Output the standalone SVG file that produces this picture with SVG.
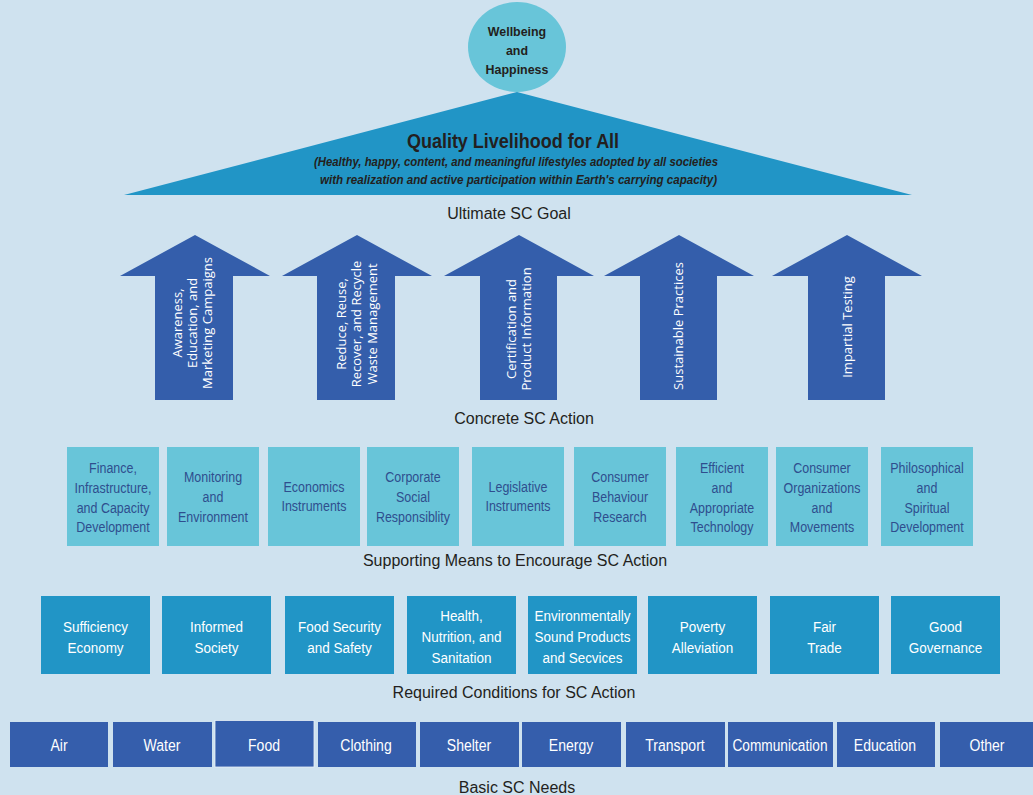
<svg xmlns="http://www.w3.org/2000/svg" width="1033" height="795" viewBox="0 0 1033 795">
<style>
.nar{font-family:"Liberation Sans",Arial,sans-serif;}
.hdr{font-family:"Liberation Sans",sans-serif;font-size:16px;fill:#231f20;text-anchor:middle;}
.arrow{fill:#345eab;}
.atxt{font-family:"Open Sans","Liberation Sans",sans-serif;font-size:13px;fill:#ffffff;text-anchor:middle;}
.sup{fill:#68c5d9;}
.stxt{font-size:14.5px;fill:#2f4e8e;text-anchor:middle;}
.req{fill:#2195c6;}
.rtxt{font-size:15.5px;fill:#ffffff;text-anchor:middle;}
.need{fill:#355eac;}
.ntxt{font-size:16.5px;fill:#ffffff;text-anchor:middle;}
</style>
<rect width="1033" height="795" fill="#cfe2ef"/>

<g id="goal">
<polygon points="517,92 912,195 124,195" fill="#2195c6"/>
<text class="nar" transform="translate(513 0) scale(0.9 1)" x="0" y="148" font-size="20" font-weight="bold" fill="#231f20" text-anchor="middle">Quality Livelihood for All</text>
<text class="nar" x="314" y="166" font-size="12.5" font-weight="bold" font-style="italic" fill="#231f20" textLength="404" lengthAdjust="spacingAndGlyphs">(Healthy, happy, content, and meaningful lifestyles adopted by all societies</text>
<text class="nar" x="320" y="184" font-size="12.5" font-weight="bold" font-style="italic" fill="#231f20" textLength="397" lengthAdjust="spacingAndGlyphs">with realization and active participation within Earth's carrying capacity)</text>
</g>
<g id="wellbeing">
<ellipse cx="517" cy="47" rx="49" ry="45" fill="#68c5d9"/>
<text class="nar" transform="translate(517 0) scale(0.92 1)" font-size="13.5" font-weight="bold" fill="#231f20" text-anchor="middle"><tspan x="0" y="36">Wellbeing</tspan><tspan x="0" y="55">and</tspan><tspan x="0" y="74">Happiness</tspan></text>
</g>
<text class="hdr" x="509" y="219">Ultimate SC Goal</text>

<g id="arrow1">
<polygon class="arrow" points="195,235 270,276 233,276 233,400 155,400 155,276 120,276"/>
<text class="atxt" transform="rotate(-90)"><tspan x="-323" y="182">Awareness,</tspan><tspan x="-323" y="197">Education, and</tspan><tspan x="-323" y="212">Marketing Campaigns</tspan></text>
</g>
<g id="arrow2">
<polygon class="arrow" points="357,235 432,276 395,276 395,400 317,400 317,276 282,276"/>
<text class="atxt" transform="rotate(-90)"><tspan x="-324" y="346">Reduce, Reuse,</tspan><tspan x="-324" y="361">Recover, and Recycle</tspan><tspan x="-324" y="377">Waste Management</tspan></text>
</g>
<g id="arrow3">
<polygon class="arrow" points="519,235 594,276 557,276 557,400 480,400 480,276 444,276"/>
<text class="atxt" transform="rotate(-90)"><tspan x="-329" y="516">Certification and</tspan><tspan x="-329" y="531">Product Information</tspan></text>
</g>
<g id="arrow4">
<polygon class="arrow" points="679,235 754,276 717,276 717,400 640,400 640,276 604,276"/>
<text class="atxt" transform="rotate(-90)" x="-326" y="683">Sustainable Practices</text>
</g>
<g id="arrow5">
<polygon class="arrow" points="847,235 922,276 885,276 885,400 808,400 808,276 772,276"/>
<text class="atxt" transform="rotate(-90)" x="-327" y="852">Impartial Testing</text>
</g>
<text class="hdr" x="524" y="424">Concrete SC Action</text>

<g id="sup1"><rect class="sup" x="67" y="447" width="92" height="99"/><text class="nar stxt" transform="translate(113 0) scale(0.86 1)"><tspan x="0" y="473">Finance,</tspan><tspan x="0" y="493">Infrastructure,</tspan><tspan x="0" y="513">and Capacity</tspan><tspan x="0" y="532">Development</tspan></text></g>
<g id="sup2"><rect class="sup" x="167" y="447" width="92" height="99"/><text class="nar stxt" transform="translate(213 0) scale(0.86 1)"><tspan x="0" y="482">Monitoring</tspan><tspan x="0" y="502">and</tspan><tspan x="0" y="522">Environment</tspan></text></g>
<g id="sup3"><rect class="sup" x="268" y="447" width="92" height="99"/><text class="nar stxt" transform="translate(314 0) scale(0.86 1)"><tspan x="0" y="492">Economics</tspan><tspan x="0" y="511">Instruments</tspan></text></g>
<g id="sup4"><rect class="sup" x="367" y="447" width="92" height="99"/><text class="nar stxt" transform="translate(413 0) scale(0.86 1)"><tspan x="0" y="482">Corporate</tspan><tspan x="0" y="502">Social</tspan><tspan x="0" y="522">Responsiblity</tspan></text></g>
<g id="sup5"><rect class="sup" x="472" y="447" width="92" height="99"/><text class="nar stxt" transform="translate(518 0) scale(0.86 1)"><tspan x="0" y="492">Legislative</tspan><tspan x="0" y="511">Instruments</tspan></text></g>
<g id="sup6"><rect class="sup" x="574" y="447" width="92" height="99"/><text class="nar stxt" transform="translate(620 0) scale(0.86 1)"><tspan x="0" y="482">Consumer</tspan><tspan x="0" y="502">Behaviour</tspan><tspan x="0" y="522">Research</tspan></text></g>
<g id="sup7"><rect class="sup" x="676" y="447" width="92" height="99"/><text class="nar stxt" transform="translate(722 0) scale(0.86 1)"><tspan x="0" y="473">Efficient</tspan><tspan x="0" y="493">and</tspan><tspan x="0" y="513">Appropriate</tspan><tspan x="0" y="532">Technology</tspan></text></g>
<g id="sup8"><rect class="sup" x="776" y="447" width="92" height="99"/><text class="nar stxt" transform="translate(822 0) scale(0.86 1)"><tspan x="0" y="473">Consumer</tspan><tspan x="0" y="493">Organizations</tspan><tspan x="0" y="513">and</tspan><tspan x="0" y="532">Movements</tspan></text></g>
<g id="sup9"><rect class="sup" x="881" y="447" width="92" height="99"/><text class="nar stxt" transform="translate(927 0) scale(0.86 1)"><tspan x="0" y="473">Philosophical</tspan><tspan x="0" y="493">and</tspan><tspan x="0" y="513">Spiritual</tspan><tspan x="0" y="532">Development</tspan></text></g>
<text class="hdr" x="515" y="566">Supporting Means to Encourage SC Action</text>

<g id="req1"><rect class="req" x="41" y="596" width="109" height="78"/><text class="nar rtxt" transform="translate(95.5 0) scale(0.87 1)"><tspan x="0" y="632">Sufficiency</tspan><tspan x="0" y="653">Economy</tspan></text></g>
<g id="req2"><rect class="req" x="162" y="596" width="109" height="78"/><text class="nar rtxt" transform="translate(216.5 0) scale(0.87 1)"><tspan x="0" y="632">Informed</tspan><tspan x="0" y="653">Society</tspan></text></g>
<g id="req3"><rect class="req" x="285" y="596" width="109" height="78"/><text class="nar rtxt" transform="translate(339.5 0) scale(0.87 1)"><tspan x="0" y="632">Food Security</tspan><tspan x="0" y="653">and Safety</tspan></text></g>
<g id="req4"><rect class="req" x="407" y="596" width="109" height="78"/><text class="nar rtxt" transform="translate(461.5 0) scale(0.87 1)"><tspan x="0" y="621">Health,</tspan><tspan x="0" y="642">Nutrition, and</tspan><tspan x="0" y="663">Sanitation</tspan></text></g>
<g id="req5"><rect class="req" x="528" y="596" width="109" height="78"/><text class="nar rtxt" transform="translate(582.5 0) scale(0.87 1)"><tspan x="0" y="621">Environmentally</tspan><tspan x="0" y="642">Sound Products</tspan><tspan x="0" y="663">and Secvices</tspan></text></g>
<g id="req6"><rect class="req" x="648" y="596" width="109" height="78"/><text class="nar rtxt" transform="translate(702.5 0) scale(0.87 1)"><tspan x="0" y="632">Poverty</tspan><tspan x="0" y="653">Alleviation</tspan></text></g>
<g id="req7"><rect class="req" x="770" y="596" width="109" height="78"/><text class="nar rtxt" transform="translate(824.5 0) scale(0.87 1)"><tspan x="0" y="632">Fair</tspan><tspan x="0" y="653">Trade</tspan></text></g>
<g id="req8"><rect class="req" x="891" y="596" width="109" height="78"/><text class="nar rtxt" transform="translate(945.5 0) scale(0.87 1)"><tspan x="0" y="632">Good</tspan><tspan x="0" y="653">Governance</tspan></text></g>
<text class="hdr" x="514" y="698">Required Conditions for SC Action</text>

<g id="need1"><rect class="need" x="10" y="722" width="98" height="45"/><text class="nar ntxt" transform="translate(59 0) scale(0.85 1)" x="0" y="751">Air</text></g>
<g id="need2"><rect class="need" x="113" y="722" width="99" height="45"/><text class="nar ntxt" transform="translate(162 0) scale(0.85 1)" x="0" y="751">Water</text></g>
<g id="need3"><rect class="need" x="215" y="720.5" width="99" height="46.5" stroke="#e8f1f7" stroke-width="0.8"/><text class="nar ntxt" transform="translate(264 0) scale(0.85 1)" x="0" y="751">Food</text></g>
<g id="need4"><rect class="need" x="318" y="722" width="98" height="45"/><text class="nar ntxt" transform="translate(366 0) scale(0.85 1)" x="0" y="751">Clothing</text></g>
<g id="need5"><rect class="need" x="420" y="722" width="99" height="45"/><text class="nar ntxt" transform="translate(469 0) scale(0.85 1)" x="0" y="751">Shelter</text></g>
<g id="need6"><rect class="need" x="522" y="722" width="99" height="45"/><text class="nar ntxt" transform="translate(571 0) scale(0.85 1)" x="0" y="751">Energy</text></g>
<g id="need7"><rect class="need" x="626" y="722" width="99" height="45"/><text class="nar ntxt" transform="translate(675 0) scale(0.85 1)" x="0" y="751">Transport</text></g>
<g id="need8"><rect class="need" x="728" y="722" width="105" height="45"/><text class="nar ntxt" transform="translate(780 0) scale(0.83 1)" x="0" y="751">Communication</text></g>
<g id="need9"><rect class="need" x="837" y="722" width="98" height="45"/><text class="nar ntxt" transform="translate(885 0) scale(0.85 1)" x="0" y="751">Education</text></g>
<g id="need10"><rect class="need" x="940" y="722" width="93" height="45"/><text class="nar ntxt" transform="translate(987 0) scale(0.85 1)" x="0" y="751">Other</text></g>
<text class="hdr" x="517" y="793">Basic SC Needs</text>
</svg>
